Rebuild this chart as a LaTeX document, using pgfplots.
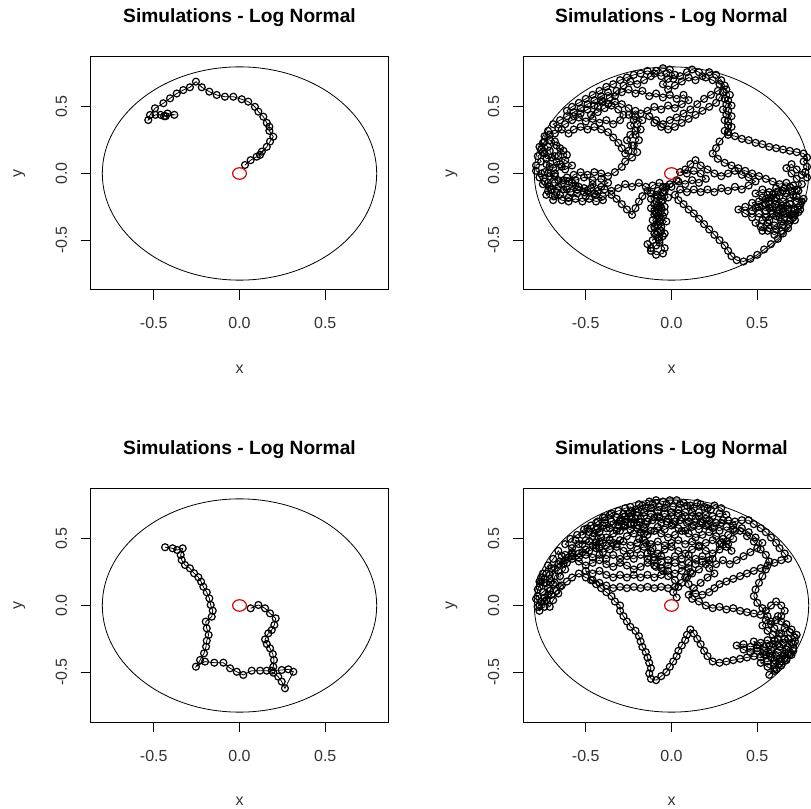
\documentclass[border=0pt]{standalone}
\usepackage{fontspec}
\setmainfont{Liberation Sans}
\usepackage{pgfplots}
\pgfplotsset{compat=1.18}

% one panel of the 2x2 R layout; 1 px of the reference = 0.75pt
\pgfplotsset{
  rwalk/.style={
    scale only axis, width=222.75pt, height=174.75pt,
    xmin=-0.866, xmax=0.866, ymin=-0.874, ymax=0.874,
    xtick={-0.5,0,0.5}, ytick={-0.5,0,0.5},
    tick pos=left, tick align=outside, major tick length=7.5pt,
    axis line style={line width=0.75pt},
    every tick/.style={black, line width=0.75pt},
    tick label style={font=\fontsize{12}{14}\selectfont, text=black!80,
      /pgf/number format/fixed, /pgf/number format/fixed zerofill,
      /pgf/number format/precision=1, /pgf/number format/assume math mode=true},
    xticklabel style={anchor=base, yshift=-21.75pt},
    yticklabel style={xshift=-10.5pt, rotate=90, anchor=base},
    every axis x label/.style={at={(axis description cs:0.5,0)}, anchor=base,
      yshift=-62.25pt, font=\fontsize{12}{14}\selectfont, text=black!80},
    every axis y label/.style={at={(axis description cs:0,0.5)}, xshift=-51.75pt,
      rotate=90, anchor=base, font=\fontsize{12}{14}\selectfont, text=black!80},
    every axis title/.style={at={(axis description cs:0.5,1)}, anchor=base,
      yshift=25.5pt, font=\bfseries\fontsize{14.4}{17}\selectfont},
    title={Simulations - Log Normal}, xlabel={x}, ylabel={y},
  },
  walk/.style={black, line width=0.6pt, mark=o, mark size=2.6pt,
    mark options={line width=0.9pt}},
  start/.style={red!85!black, only marks, mark=o, mark size=4.8pt,
    mark options={line width=0.9pt, xscale=1.08, yscale=0.9}},
}

\begin{document}
\begin{tikzpicture}
\useasboundingbox (0,0) rectangle (608.25pt,-606.75pt);
\clip (0,0) rectangle (608.25pt,-606.75pt);

% top left
\begin{axis}[rwalk, at={(68.25pt,-217.5pt)}, anchor=south west]
\draw[line width=0.6pt] (axis cs:0,0) ellipse [x radius=0.8, y radius=0.8];
\addplot[walk] coordinates {
(0.032,0.064) (0.065,0.10) (0.10,0.126) (0.13,0.164) (0.12,0.14) (0.159,0.20) (0.178,0.24)
(0.197,0.276) (0.174,0.32) (0.174,0.351) (0.159,0.38) (0.139,0.426) (0.11,0.464) (0.09,0.50)
(0.051,0.539) (0.013,0.557) (-0.036,0.576) (-0.085,0.576) (-0.133,0.589) (-0.176,0.614)
(-0.22,0.647) (-0.254,0.689) (-0.289,0.647) (-0.328,0.626) (-0.366,0.60) (-0.405,0.564)
(-0.444,0.527) (-0.493,0.489) (-0.522,0.439) (-0.532,0.401) (-0.49,0.44) (-0.46,0.44)
(-0.43,0.43) (-0.42,0.45) (-0.38,0.44) (-0.44,0.43)
};
\addplot[start] coordinates {(0,0)};
\end{axis}

% top right
\begin{axis}[rwalk, at={(392.25pt,-217.5pt)}, anchor=south west]
\draw[line width=0.6pt] (axis cs:0,0) ellipse [x radius=0.8, y radius=0.8];
\addplot[walk] coordinates {
(0.03,-0.05) (-0.01,-0.08) (-0.05,-0.10) (-0.08,-0.13) (-0.06,-0.17) (-0.09,-0.21) (-0.07,-0.25)
(-0.10,-0.28) (-0.08,-0.32) (-0.11,-0.35) (-0.08,-0.39) (-0.06,-0.43) (-0.09,-0.46) (-0.07,-0.50)
(-0.09,-0.54) (-0.12,-0.56) (-0.14,-0.53) (-0.12,-0.58) (-0.09,-0.61) (-0.05,-0.60) (-0.04,-0.56)
(-0.07,-0.52) (-0.05,-0.47) (-0.08,-0.44) (-0.10,-0.40) (-0.07,-0.36) (-0.05,-0.32) (-0.09,-0.30)
(-0.06,-0.26) (-0.10,-0.23) (-0.12,-0.19) (-0.09,-0.16) (-0.05,-0.14) (-0.03,-0.10) (-0.07,-0.07)
(-0.11,-0.09) (-0.14,-0.13) (-0.17,-0.17) (-0.19,-0.21) (-0.21,-0.26) (-0.23,-0.31) (-0.26,-0.27)
(-0.29,-0.23) (-0.32,-0.19) (-0.35,-0.16) (-0.40,-0.17) (-0.45,-0.15) (-0.50,-0.17) (-0.55,-0.15)
(-0.60,-0.18) (-0.65,-0.16) (-0.69,-0.20) (-0.73,-0.16) (-0.70,-0.12) (-0.66,-0.10) (-0.61,-0.12)
(-0.56,-0.09) (-0.51,-0.11) (-0.46,-0.08) (-0.41,-0.10) (-0.37,-0.07) (-0.41,-0.04) (-0.46,-0.05)
(-0.51,-0.03) (-0.56,-0.05) (-0.61,-0.03) (-0.66,-0.05) (-0.71,-0.02) (-0.76,0.00) (-0.79,0.02)
(-0.79,0.06) (-0.76,0.09) (-0.78,0.13) (-0.75,0.16) (-0.77,0.20) (-0.75,0.23) (-0.72,0.20)
(-0.74,0.15) (-0.70,0.12) (-0.73,0.07) (-0.69,0.04) (-0.65,0.07) (-0.62,0.03) (-0.58,0.06)
(-0.62,0.10) (-0.66,0.13) (-0.63,0.17) (-0.67,0.21) (-0.71,0.25) (-0.74,0.28) (-0.72,0.32)
(-0.68,0.30) (-0.64,0.33) (-0.60,0.30) (-0.57,0.33) (-0.53,0.35) (-0.49,0.33) (-0.45,0.35)
(-0.41,0.33) (-0.37,0.31) (-0.34,0.27) (-0.31,0.23) (-0.29,0.19) (-0.27,0.15) (-0.25,0.17)
(-0.23,0.21) (-0.26,0.25) (-0.24,0.29) (-0.21,0.32) (-0.24,0.36) (-0.22,0.40) (-0.25,0.44)
(-0.21,0.47) (-0.18,0.45) (-0.14,0.47) (-0.10,0.50) (-0.06,0.48) (-0.02,0.51) (0.02,0.49)
(0.06,0.52) (0.10,0.55) (0.07,0.59) (0.03,0.56) (-0.01,0.59) (-0.05,0.57) (-0.09,0.60)
(-0.13,0.58) (-0.17,0.62) (-0.21,0.60) (-0.25,0.63) (-0.29,0.61) (-0.33,0.58) (-0.37,0.61)
(-0.41,0.58) (-0.45,0.55) (-0.49,0.52) (-0.53,0.49) (-0.57,0.46) (-0.61,0.43) (-0.65,0.40)
(-0.69,0.37) (-0.66,0.34) (-0.62,0.37) (-0.58,0.40) (-0.54,0.42) (-0.50,0.39) (-0.46,0.41)
(-0.42,0.38) (-0.38,0.40) (-0.34,0.37) (-0.30,0.40) (-0.28,0.44) (-0.31,0.48) (-0.35,0.51)
(-0.39,0.49) (-0.43,0.46) (-0.47,0.44) (-0.43,0.50) (-0.40,0.54) (-0.36,0.57) (-0.32,0.62)
(-0.28,0.66) (-0.24,0.69) (-0.20,0.67) (-0.16,0.70) (-0.12,0.73) (-0.09,0.77) (-0.05,0.79)
(-0.01,0.78) (0.02,0.74) (-0.02,0.71) (-0.05,0.67) (-0.02,0.63) (0.02,0.66) (0.06,0.69)
(0.10,0.72) (0.14,0.70) (0.18,0.73) (0.22,0.76) (0.26,0.74) (0.29,0.70) (0.31,0.66)
(0.27,0.62) (0.23,0.59) (0.19,0.56) (0.15,0.52) (0.11,0.48) (0.07,0.45) (0.03,0.42)
(-0.01,0.40) (-0.05,0.37) (-0.09,0.40) (-0.13,0.43) (-0.10,0.38) (-0.06,0.35) (-0.02,0.33)
(0.02,0.35) (0.06,0.38) (0.10,0.41) (0.14,0.44) (0.18,0.47) (0.22,0.50) (0.26,0.53)
(0.28,0.57) (0.30,0.61) (0.31,0.56) (0.32,0.52) (0.30,0.48) (0.32,0.44) (0.31,0.40)
(0.33,0.36) (0.31,0.32) (0.33,0.29) (0.37,0.28) (0.41,0.26) (0.45,0.25) (0.49,0.23)
(0.53,0.22) (0.57,0.20) (0.61,0.19) (0.65,0.18) (0.69,0.17) (0.73,0.16) (0.77,0.15)
(0.79,0.12) (0.77,0.09) (0.79,0.05) (0.78,0.01) (0.79,-0.03) (0.76,-0.01) (0.73,0.03)
(0.70,0.07) (0.67,0.04) (0.70,0.00) (0.73,-0.04) (0.76,-0.08) (0.73,-0.12) (0.69,-0.10)
(0.65,-0.13) (0.61,-0.11) (0.57,-0.14) (0.53,-0.12) (0.49,-0.15) (0.53,-0.18) (0.57,-0.21)
(0.61,-0.18) (0.65,-0.21) (0.69,-0.18) (0.73,-0.21) (0.77,-0.19) (0.75,-0.24) (0.71,-0.26)
(0.67,-0.24) (0.63,-0.27) (0.59,-0.25) (0.55,-0.28) (0.51,-0.25) (0.47,-0.28) (0.43,-0.25)
(0.39,-0.27) (0.43,-0.30) (0.47,-0.33) (0.51,-0.30) (0.55,-0.33) (0.59,-0.30) (0.63,-0.33)
(0.67,-0.30) (0.71,-0.33) (0.74,-0.29) (0.72,-0.35) (0.68,-0.38) (0.64,-0.36) (0.60,-0.39)
(0.56,-0.37) (0.52,-0.40) (0.56,-0.43) (0.60,-0.46) (0.64,-0.43) (0.68,-0.41) (0.65,-0.45)
(0.62,-0.49) (0.58,-0.53) (0.54,-0.57) (0.50,-0.61) (0.46,-0.64) (0.42,-0.66) (0.38,-0.65)
(0.35,-0.62) (0.33,-0.58) (0.31,-0.54) (0.28,-0.50) (0.25,-0.46) (0.22,-0.42) (0.19,-0.38)
(0.16,-0.34) (0.13,-0.30) (0.10,-0.27) (0.07,-0.23) (0.04,-0.20) (0.02,-0.16) (0.05,-0.12)
(0.09,-0.14) (0.13,-0.12) (0.17,-0.14) (0.21,-0.12) (0.25,-0.14) (0.29,-0.11) (0.33,-0.13)
(0.37,-0.10) (0.41,-0.12) (0.45,-0.09) (0.49,-0.06) (0.45,-0.03) (0.41,-0.01) (0.37,0.02)
(0.33,0.00) (0.29,-0.02) (0.25,0.00) (0.21,0.03) (0.17,0.06) (0.14,0.10) (0.11,0.07)
(0.08,0.03) (0.05,0.01) (0.09,0.00) (0.13,0.02) (0.17,0.00) (0.20,-0.04) (0.16,-0.07)
(0.12,-0.05) (0.08,-0.08) (0.04,-0.06)
(0.00,-0.10) (-0.04,-0.13) (-0.02,-0.18) (-0.06,-0.21) (-0.04,-0.25) (-0.08,-0.27) (-0.12,-0.26)
(-0.10,-0.31) (-0.06,-0.34) (-0.09,-0.38) (-0.12,-0.41) (-0.10,-0.45) (-0.11,-0.50) (-0.08,-0.48)
(-0.04,-0.45) (-0.06,-0.40) (-0.03,-0.36) (-0.07,-0.33) (-0.04,-0.29) (-0.08,-0.24) (-0.05,-0.20)
(-0.08,-0.17) (-0.12,-0.15) (-0.15,-0.10) (-0.19,-0.07) (-0.23,-0.10) (-0.27,-0.08) (-0.31,-0.11)
(-0.35,-0.13) (-0.39,-0.12) (-0.43,-0.13) (-0.47,-0.11) (-0.51,-0.14) (-0.55,-0.12) (-0.59,-0.14)
(-0.63,-0.12) (-0.67,-0.14) (-0.71,-0.10) (-0.74,-0.06) (-0.77,-0.03)
(-0.75,-0.08) (-0.72,-0.13) (-0.68,-0.17) (-0.64,-0.20) (-0.60,-0.21) (-0.56,-0.19) (-0.52,-0.21)
(-0.48,-0.19) (-0.44,-0.21) (-0.40,-0.20) (-0.44,-0.16) (-0.49,-0.13) (-0.54,-0.10) (-0.58,-0.07)
(-0.63,-0.05) (-0.68,-0.02) (-0.72,0.00)
(-0.74,0.01) (-0.71,0.05) (-0.67,0.09) (-0.71,0.17) (-0.68,0.24) (-0.71,0.29) (-0.74,0.24)
(-0.76,0.18) (-0.73,0.11) (-0.68,0.13) (-0.65,0.19) (-0.61,0.14) (-0.64,0.05) (-0.68,0.00)
(-0.72,-0.07) (-0.68,-0.07) (-0.64,-0.08) (-0.60,-0.06) (-0.57,-0.01) (-0.53,0.01) (-0.49,-0.01)
(-0.45,0.01) (-0.41,0.00) (-0.37,-0.02) (-0.33,0.01) (-0.29,0.05) (-0.27,0.09) (-0.23,0.12)
(-0.20,0.16) (-0.22,0.21) (-0.19,0.25) (-0.21,0.29) (-0.18,0.33) (-0.20,0.37) (-0.17,0.40)
(-0.21,0.43) (-0.25,0.49) (-0.29,0.52) (-0.33,0.54) (-0.37,0.52) (-0.41,0.55) (-0.45,0.51)
(-0.49,0.48) (-0.53,0.45) (-0.57,0.43) (-0.61,0.47) (-0.58,0.50) (-0.54,0.53) (-0.50,0.56)
(-0.46,0.59) (-0.42,0.62) (-0.38,0.65) (-0.34,0.67) (-0.30,0.70) (-0.26,0.72) (-0.22,0.74)
(-0.18,0.75) (-0.14,0.77) (-0.10,0.75) (-0.06,0.73) (-0.03,0.75) (0.01,0.71) (0.05,0.73)
(0.09,0.76) (0.12,0.78) (0.16,0.76) (0.20,0.72) (0.24,0.70) (0.28,0.67) (0.32,0.63)
(0.34,0.59) (0.33,0.55) (0.35,0.51) (0.33,0.47) (0.35,0.43) (0.33,0.39) (0.35,0.35)
(0.33,0.31) (0.28,0.24) (0.26,0.19) (0.24,0.15) (0.27,0.11) (0.31,0.08) (0.35,0.06)
(0.39,0.04) (0.43,0.02) (0.47,0.00) (0.51,-0.02) (0.55,-0.04) (0.59,-0.06) (0.63,-0.08)
(0.67,-0.07) (0.71,-0.09) (0.74,-0.13) (0.71,-0.16) (0.67,-0.15) (0.63,-0.17) (0.59,-0.16)
(0.55,-0.19) (0.51,-0.21) (0.47,-0.22) (0.49,-0.26) (0.53,-0.24) (0.57,-0.26) (0.61,-0.23)
(0.65,-0.26) (0.69,-0.23) (0.72,-0.27) (0.69,-0.31) (0.65,-0.29) (0.61,-0.32) (0.57,-0.35)
(0.53,-0.35) (0.49,-0.37) (0.53,-0.43) (0.57,-0.41) (0.61,-0.42) (0.65,-0.39) (0.69,-0.35)
(0.72,-0.31) (0.75,-0.27) (0.76,-0.21) (0.73,-0.17) (0.70,-0.13) (0.66,-0.11) (0.62,-0.14)
(0.58,-0.18) (0.55,-0.23) (0.58,-0.28) (0.62,-0.30) (0.66,-0.33) (0.70,-0.31) (0.68,-0.27)
(0.64,-0.24) (0.60,-0.20) (0.56,-0.16)
};
\addplot[start] coordinates {(0,0)};
\end{axis}

% bottom left
\begin{axis}[rwalk, at={(68.25pt,-541.5pt)}, anchor=south west]
\draw[line width=0.6pt] (axis cs:0,0) ellipse [x radius=0.8, y radius=0.8];
\addplot[walk] coordinates {
(0.065,-0.021) (0.11,0.004) (0.149,-0.021) (0.178,-0.059) (0.211,-0.096) (0.203,-0.146)
(0.188,-0.184) (0.168,-0.209) (0.149,-0.254) (0.159,-0.289) (0.178,-0.321) (0.194,-0.364)
(0.201,-0.409) (0.197,-0.459) (0.188,-0.489) (0.246,-0.484) (0.285,-0.479) (0.314,-0.497)
(0.265,-0.621) (0.246,-0.571) (0.226,-0.534) (0.197,-0.504) (0.159,-0.489) (0.12,-0.489)
(0.071,-0.489) (0.022,-0.521) (-0.016,-0.497) (-0.055,-0.471) (-0.094,-0.429) (-0.147,-0.429)
(-0.201,-0.421) (-0.254,-0.459) (-0.23,-0.409) (-0.207,-0.359) (-0.195,-0.309) (-0.191,-0.264)
(-0.18,-0.221) (-0.191,-0.171) (-0.197,-0.121) (-0.162,-0.084) (-0.156,-0.039) (-0.168,0.004)
(-0.176,0.054) (-0.191,0.099) (-0.211,0.141) (-0.224,0.179) (-0.24,0.212) (-0.265,0.242)
(-0.289,0.279) (-0.318,0.304) (-0.337,0.341) (-0.343,0.379) (-0.331,0.429) (-0.363,0.416)
(-0.39,0.429) (-0.434,0.437)
};
\addplot[start] coordinates {(0,0)};
\end{axis}

% bottom right
\begin{axis}[rwalk, at={(392.25pt,-541.5pt)}, anchor=south west]
\draw[line width=0.6pt] (axis cs:0,0) ellipse [x radius=0.8, y radius=0.8];
\addplot[walk] coordinates {
(0.03,0.06) (0.01,0.10) (0.04,0.14) (0.02,0.19) (-0.02,0.22) (-0.05,0.26) (-0.09,0.29)
(-0.06,0.33) (-0.10,0.36) (-0.14,0.39) (-0.11,0.43) (-0.15,0.47) (-0.19,0.50) (-0.16,0.54)
(-0.20,0.58) (-0.24,0.61) (-0.21,0.65) (-0.25,0.69) (-0.21,0.72) (-0.17,0.75) (-0.13,0.78)
(-0.09,0.79) (-0.05,0.78) (-0.01,0.79) (0.03,0.79) (0.07,0.77) (0.11,0.75) (0.15,0.77)
(0.19,0.74) (0.23,0.72) (0.20,0.68) (0.16,0.70) (0.12,0.67) (0.08,0.70) (0.04,0.72)
(0.00,0.70) (-0.04,0.73) (-0.08,0.71) (-0.12,0.73) (-0.16,0.70) (-0.20,0.70) (-0.24,0.74)
(-0.27,0.73) (-0.31,0.71) (-0.35,0.69) (-0.39,0.66) (-0.43,0.63) (-0.47,0.60) (-0.51,0.57)
(-0.55,0.53) (-0.59,0.50) (-0.62,0.46) (-0.58,0.43) (-0.54,0.46) (-0.50,0.49) (-0.46,0.52)
(-0.42,0.55) (-0.38,0.58) (-0.34,0.61) (-0.30,0.64) (-0.27,0.60) (-0.30,0.56) (-0.34,0.54)
(-0.38,0.51) (-0.42,0.48) (-0.46,0.45) (-0.50,0.42) (-0.54,0.39) (-0.58,0.37) (-0.62,0.34)
(-0.66,0.31) (-0.70,0.28) (-0.73,0.24) (-0.76,0.21) (-0.77,0.18) (-0.77,0.14) (-0.74,0.17)
(-0.71,0.20) (-0.68,0.17) (-0.72,0.13) (-0.75,0.10) (-0.78,0.07) (-0.76,0.03) (-0.78,-0.01)
(-0.77,-0.04) (-0.74,-0.01) (-0.73,0.04) (-0.70,0.08) (-0.67,0.11) (-0.64,0.15) (-0.61,0.18)
(-0.58,0.21) (-0.54,0.24) (-0.50,0.21) (-0.46,0.19) (-0.42,0.17) (-0.38,0.15) (-0.34,0.13)
(-0.30,0.14) (-0.26,0.13) (-0.22,0.14) (-0.18,0.13) (-0.14,0.14) (-0.10,0.13) (-0.06,0.14)
(-0.02,0.13) (0.02,0.14) (0.06,0.17) (0.09,0.21) (0.11,0.25) (0.10,0.28) (0.06,0.30)
(0.02,0.32) (-0.02,0.30) (-0.06,0.28) (-0.10,0.30) (-0.14,0.32) (-0.18,0.29) (-0.22,0.27)
(-0.26,0.30) (-0.30,0.32) (-0.34,0.29) (-0.38,0.31) (-0.42,0.34) (-0.46,0.32) (-0.50,0.30)
(-0.54,0.33) (-0.58,0.35) (-0.52,0.40) (-0.48,0.41) (-0.44,0.43) (-0.40,0.40) (-0.36,0.42)
(-0.32,0.44) (-0.28,0.41) (-0.24,0.39) (-0.20,0.42) (-0.16,0.44) (-0.12,0.41) (-0.08,0.39)
(-0.04,0.42) (0.00,0.44) (0.04,0.41) (0.08,0.39) (0.12,0.42) (0.16,0.44) (0.20,0.41)
(0.24,0.39) (0.28,0.42) (0.32,0.44) (0.35,0.41) (0.33,0.46) (0.30,0.50) (0.26,0.52)
(0.22,0.55) (0.18,0.53) (0.14,0.51) (0.10,0.54) (0.06,0.56) (0.02,0.53) (-0.02,0.51)
(-0.06,0.54) (-0.10,0.56) (-0.14,0.53) (-0.18,0.55) (-0.22,0.54) (-0.26,0.52) (-0.30,0.49)
(-0.34,0.47) (-0.38,0.45) (-0.42,0.43) (-0.44,0.47) (-0.41,0.51) (-0.45,0.54) (-0.43,0.58)
(-0.39,0.62) (-0.35,0.63) (-0.31,0.60) (-0.27,0.63) (-0.23,0.65) (-0.19,0.63) (-0.15,0.61)
(-0.11,0.64) (-0.07,0.66) (-0.03,0.63) (0.01,0.61) (0.05,0.64) (0.09,0.62) (0.13,0.60)
(0.17,0.63) (0.21,0.61) (0.25,0.59) (0.29,0.62) (0.33,0.64) (0.37,0.63) (0.41,0.64)
(0.45,0.64) (0.48,0.61) (0.52,0.58) (0.55,0.55) (0.58,0.51) (0.61,0.47) (0.63,0.43)
(0.66,0.39) (0.68,0.35) (0.64,0.34) (0.60,0.32) (0.56,0.30) (0.52,0.28) (0.48,0.26)
(0.44,0.24) (0.40,0.22) (0.36,0.20) (0.32,0.18) (0.28,0.16) (0.25,0.13) (0.22,0.10)
(0.18,0.08) (0.14,0.09) (0.10,0.08) (0.13,0.13) (0.17,0.17) (0.21,0.21) (0.25,0.24)
(0.22,0.28) (0.26,0.31) (0.30,0.34) (0.34,0.31) (0.38,0.34) (0.42,0.37) (0.46,0.40)
(0.50,0.43) (0.53,0.47) (0.49,0.51) (0.45,0.55) (0.41,0.58) (0.37,0.56) (0.33,0.53)
(0.29,0.47) (0.24,0.35) (0.20,0.31) (0.16,0.27) (0.12,0.24) (0.08,0.21) (0.10,0.16)
(0.12,0.05) (0.16,0.03) (0.20,0.00) (0.24,-0.02) (0.28,-0.01) (0.32,-0.03) (0.36,-0.02)
(0.40,-0.04) (0.44,-0.05) (0.48,-0.06) (0.52,-0.07) (0.55,-0.04) (0.58,0.00) (0.61,0.03)
(0.64,0.00) (0.66,-0.04) (0.64,-0.08) (0.61,-0.11) (0.58,-0.14) (0.55,-0.11) (0.53,-0.15)
(0.56,-0.19) (0.59,-0.22) (0.62,-0.25) (0.65,-0.28) (0.68,-0.31) (0.71,-0.34) (0.70,-0.37)
(0.67,-0.41) (0.64,-0.45) (0.61,-0.48) (0.60,-0.44) (0.63,-0.40) (0.66,-0.36) (0.62,-0.35)
(0.58,-0.33) (0.54,-0.31) (0.50,-0.30) (0.46,-0.31) (0.42,-0.29) (0.38,-0.30) (0.42,-0.33)
(0.46,-0.35) (0.50,-0.34) (0.54,-0.37) (0.58,-0.39) (0.62,-0.29) (0.66,-0.25) (0.70,-0.28)
(0.72,-0.24) (0.69,-0.20) (0.66,-0.17) (0.63,-0.21) (0.60,-0.26) (0.57,-0.30) (0.55,-0.37)
(0.52,-0.39) (0.48,-0.38) (0.44,-0.39) (0.40,-0.40) (0.36,-0.41) (0.32,-0.42) (0.28,-0.43)
(0.24,-0.42) (0.21,-0.38) (0.19,-0.34) (0.17,-0.29) (0.15,-0.25) (0.13,-0.21) (0.11,-0.18)
(0.09,-0.22) (0.08,-0.26) (0.06,-0.30) (0.04,-0.34) (0.03,-0.38) (0.01,-0.42) (-0.01,-0.46)
(-0.03,-0.50) (-0.06,-0.53) (-0.09,-0.56) (-0.12,-0.55) (-0.13,-0.51) (-0.12,-0.47)
(-0.13,-0.43) (-0.14,-0.39) (-0.15,-0.35) (-0.17,-0.31) (-0.18,-0.27) (-0.19,-0.23)
(-0.21,-0.19) (-0.24,-0.16) (-0.26,-0.12) (-0.28,-0.08) (-0.30,-0.04) (-0.30,0.00)
(-0.33,0.03) (-0.35,0.07) (-0.38,0.10) (-0.41,0.13) (-0.44,0.16) (-0.47,0.19)
(-0.50,0.26) (-0.46,0.24) (-0.42,0.26) (-0.38,0.23) (-0.34,0.21) (-0.30,0.23) (-0.26,0.21)
(-0.22,0.23) (-0.18,0.21) (-0.14,0.23) (-0.10,0.21) (-0.06,0.23) (-0.02,0.26) (0.02,0.24)
(0.06,0.26) (0.10,0.32) (0.14,0.35) (0.18,0.37) (0.22,0.34) (0.18,0.33) (0.14,0.31)
(0.10,0.38) (0.06,0.35) (0.02,0.37) (-0.02,0.34) (-0.06,0.37) (-0.10,0.34) (-0.14,0.35)
(-0.18,0.38) (-0.22,0.35) (-0.26,0.37) (-0.30,0.35) (-0.34,0.38) (-0.38,0.35) (-0.42,0.38)
(-0.46,0.36) (-0.50,0.38) (-0.54,0.36) (-0.58,0.39) (-0.62,0.38) (-0.65,0.33) (-0.68,0.28)
(-0.71,0.23) (-0.73,0.17) (-0.72,0.08) (-0.74,0.03) (-0.71,-0.01) (-0.69,0.04) (-0.66,0.09)
(-0.65,0.14) (-0.65,0.22) (-0.62,0.27) (-0.61,0.32)
(-0.64,0.37) (-0.66,0.41) (-0.69,0.35) (-0.72,0.30) (-0.75,0.24) (-0.76,0.18) (-0.78,0.12)
(-0.79,0.05) (-0.77,0.00) (-0.74,0.06) (-0.71,0.11) (-0.69,0.16) (-0.68,0.22) (-0.66,0.26)
(-0.63,0.31) (-0.60,0.36)
(-0.58,0.40) (-0.56,0.49) (-0.52,0.46)
(-0.48,0.48) (-0.44,0.45) (-0.40,0.47) (-0.36,0.49) (-0.32,0.46) (-0.28,0.48) (-0.24,0.45)
(-0.20,0.47) (-0.16,0.49) (-0.12,0.46) (-0.08,0.48) (-0.04,0.45) (0.00,0.47) (0.04,0.49)
(0.08,0.46) (0.12,0.48) (0.16,0.45) (0.20,0.47) (0.24,0.49) (0.28,0.46) (0.32,0.48)
(0.36,0.50) (0.36,0.57) (0.32,0.59) (0.28,0.56) (0.24,0.58) (0.20,0.60) (0.16,0.57)
(0.12,0.59) (0.08,0.56) (0.04,0.58) (0.00,0.60) (-0.04,0.57) (-0.08,0.59) (-0.12,0.56)
(-0.16,0.58) (-0.20,0.60) (-0.24,0.57) (-0.28,0.59) (-0.32,0.56) (-0.36,0.58) (-0.40,0.60)
(-0.44,0.57) (-0.48,0.55) (-0.52,0.53) (-0.49,0.58) (-0.44,0.62) (-0.40,0.66) (-0.36,0.68)
(-0.32,0.66) (-0.28,0.69) (-0.24,0.67) (-0.20,0.70) (-0.16,0.67) (-0.12,0.69) (-0.08,0.67)
(-0.04,0.69) (0.00,0.67) (0.04,0.69) (0.08,0.67) (0.12,0.70) (0.16,0.67) (0.20,0.65)
(0.24,0.67) (0.28,0.69) (0.32,0.68)
(0.29,0.73) (0.25,0.75) (0.21,0.73) (0.17,0.76) (0.13,0.73) (0.09,0.75) (0.05,0.76)
(0.01,0.74) (-0.03,0.76) (-0.07,0.74) (-0.11,0.76) (-0.15,0.73) (-0.19,0.76) (-0.23,0.71)
(-0.27,0.67) (-0.30,0.63) (-0.26,0.645) (-0.22,0.62) (-0.18,0.65) (-0.14,0.63) (-0.10,0.66)
(-0.06,0.62) (-0.02,0.65) (0.02,0.63) (0.06,0.66) (0.10,0.63) (0.14,0.65) (0.18,0.62)
(0.22,0.64) (0.26,0.62) (0.30,0.64)
(0.36,0.60) (0.40,0.56) (0.44,0.52) (0.48,0.48)
(0.52,0.42) (0.55,0.38) (0.57,0.33) (0.55,0.27) (0.53,0.22) (0.51,0.17) (0.49,0.12)
(0.48,0.07) (0.50,0.02) (0.53,-0.02) (0.56,-0.08) (0.58,-0.12) (0.60,-0.17) (0.64,-0.21)
(0.68,-0.25) (0.71,-0.29) (0.67,-0.33) (0.63,-0.31) (0.59,-0.29) (0.56,-0.26) (0.52,-0.28)
(0.48,-0.27) (0.50,-0.32) (0.54,-0.34) (0.57,-0.36) (0.61,-0.38) (0.65,-0.38) (0.68,-0.36)
(0.64,-0.42) (0.60,-0.41) (0.56,-0.42) (0.52,-0.43) (0.56,-0.46) (0.60,-0.49) (0.57,-0.52)
(0.60,-0.47) (0.63,-0.44) (0.66,-0.40) (0.69,-0.37) (0.71,-0.32) (0.72,-0.27) (0.73,-0.22)
(0.70,-0.18) (0.67,-0.14) (0.64,-0.12) (0.62,-0.08)
};
\addplot[start] coordinates {(0,0)};
\end{axis}
\end{tikzpicture}
\end{document}
